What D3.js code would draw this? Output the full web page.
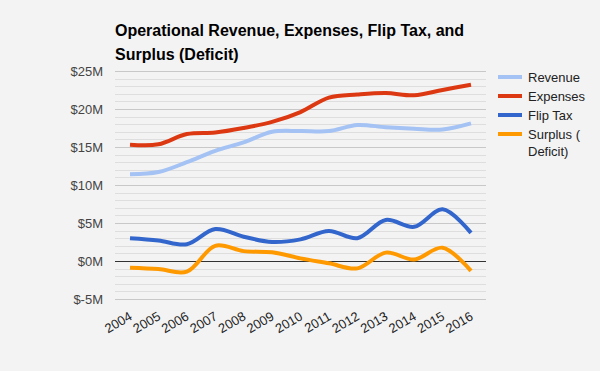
<!DOCTYPE html>
<html>
<head>
<meta charset="utf-8">
<script src="https://cdn.jsdelivr.net/npm/d3@7"></script>
<style>
  body { margin: 0; background: #f3f3f3; }
  svg { display: block; font-family: Arial, "Liberation Sans", sans-serif; }
</style>
</head>
<body>
<div id="chart"></div>
<script>
// datos del gráfico (millones de dólares)
var years = ["2004", "2005", "2006", "2007", "2008", "2009", "2010", "2011", "2012", "2013", "2014", "2015", "2016"];
var revenue  = [11.4, 11.7, 13.0, 14.5, 15.6, 17.0, 17.1, 17.1, 17.9, 17.6, 17.4, 17.3, 18.1];
var expenses = [15.3, 15.35, 16.7, 16.9, 17.5, 18.3, 19.6, 21.5, 21.9, 22.1, 21.8, 22.5, 23.2];
var flipTax  = [3.0, 2.7, 2.2, 4.2, 3.2, 2.5, 2.85, 3.95, 3.0, 5.4, 4.5, 6.8, 3.7];
var surplus  = [-0.88, -1.05, -1.4, 2.0, 1.3, 1.15, 0.35, -0.3, -0.97, 1.1, 0.2, 1.75, -1.3];
var yTicks = [-5, 0, 5, 10, 15, 20, 25];
var seriesNames = ["Revenue", "Expenses", "Flip Tax", "Surplus ( Deficit)"];
var seriesColors = ["#a4c2f4", "#dc3912", "#3366cc", "#ff9900"];

var chart_width = 600;
var chart_height = 371;
var margin = { top: 71, bottom: 72, left: 115, right: 114 };

var series = [revenue, expenses, flipTax, surplus];

var svg = d3.select("#chart")
  .append("svg")
  .attr("width", chart_width)
  .attr("height", chart_height);

svg.append("rect")
  .attr("width", chart_width)
  .attr("height", chart_height)
  .style("fill", "#f3f3f3");

// Titulo
var titulo = svg.append("text")
  .attr("x", 115)
  .attr("y", 36)
  .style("font-size", "16px")
  .style("font-weight", "bold")
  .style("fill", "#000");
titulo.append("tspan").attr("x", 115).attr("dy", 0).text("Operational Revenue, Expenses, Flip Tax, and");
titulo.append("tspan").attr("x", 115).attr("dy", 24).text("Surplus (Deficit)");

// Escalas
var escalaX = d3.scalePoint()
  .domain(years)
  .range([130, 471]);

var escalaY = d3.scaleLinear()
  .domain([-5, 25])
  .range([chart_height - margin.bottom, margin.top]);

// lineas menores de la cuadricula
var minor = d3.range(-5, 25, 1).filter(function (v) { return v % 5 !== 0; });
svg.append("g")
  .selectAll("line")
  .data(minor)
  .enter()
  .append("line")
  .attr("x1", margin.left)
  .attr("x2", chart_width - margin.right)
  .attr("y1", function (d) { return Math.round(escalaY(d)) + 0.5; })
  .attr("y2", function (d) { return Math.round(escalaY(d)) + 0.5; })
  .style("stroke", "#dedede")
  .style("stroke-width", 1);

// lineas mayores
svg.append("g")
  .selectAll("line")
  .data(yTicks)
  .enter()
  .append("line")
  .attr("x1", margin.left)
  .attr("x2", chart_width - margin.right)
  .attr("y1", function (d) { return Math.round(escalaY(d)) + 0.5; })
  .attr("y2", function (d) { return Math.round(escalaY(d)) + 0.5; })
  .style("stroke", function (d) { return d === 0 ? "#333" : "#c8c8c8"; })
  .style("stroke-width", 1);

// Etiquetas eje Y
var ejeY = d3.axisLeft(escalaY)
  .tickValues(yTicks)
  .tickSize(0)
  .tickPadding(0)
  .tickFormat(function (d) { return "$" + d + "M"; });

var gY = svg.append("g")
  .attr("transform", "translate(103,0)")
  .call(ejeY);
gY.select(".domain").remove();
gY.selectAll("text")
  .style("font-size", "13px")
  .style("font-family", "Arial, 'Liberation Sans', sans-serif")
  .style("fill", "#444");

// Etiquetas eje X (rotadas)
svg.append("g")
  .selectAll("text")
  .data(years)
  .enter()
  .append("text")
  .attr("transform", function (d) { return "translate(" + (escalaX(d) + 3) + ",319) rotate(-30)"; })
  .attr("text-anchor", "end")
  .style("font-size", "13px")
  .style("fill", "#222")
  .text(function (d) { return d; });

// Lineas suavizadas
var line = d3.line()
  .x(function (d, i) { return escalaX(years[i]); })
  .y(function (d) { return escalaY(d); })
  .curve(d3.curveCatmullRom.alpha(0.5));

svg.append("g")
  .selectAll("path")
  .data(series)
  .enter()
  .append("path")
  .attr("d", line)
  .attr("fill", "none")
  .attr("stroke", function (d, i) { return seriesColors[i]; })
  .attr("stroke-width", 4)
  .attr("stroke-linejoin", "round");

// Leyenda
var legend = svg.append("g")
  .selectAll("g")
  .data(seriesNames)
  .enter()
  .append("g")
  .attr("transform", function (d, i) { return "translate(498," + (77 + i * 19) + ")"; });

legend.append("line")
  .attr("x1", 0)
  .attr("x2", 24)
  .attr("stroke", function (d, i) { return seriesColors[i]; })
  .attr("stroke-width", 4);

legend.append("text")
  .attr("x", 30)
  .attr("y", 4.5)
  .style("font-size", "13px")
  .style("fill", "#222")
  .each(function (d) {
    var partes = d === "Surplus ( Deficit)" ? ["Surplus (", "Deficit)"] : [d];
    var t = d3.select(this);
    partes.forEach(function (p, k) {
      t.append("tspan").attr("x", 30).attr("dy", k === 0 ? 0 : 17).text(p);
    });
  });
</script>
</body>
</html>
